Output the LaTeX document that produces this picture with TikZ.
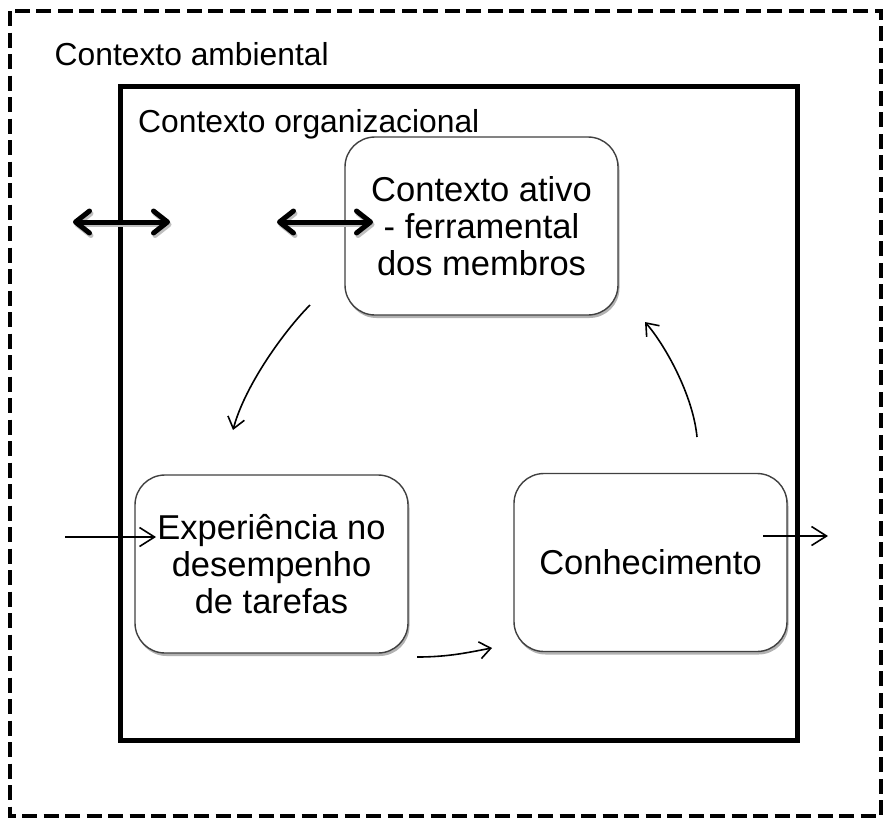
\documentclass[tikz,border=0pt]{standalone}
\usepackage{fontspec}
\setmainfont{Liberation Sans}
\usetikzlibrary{arrows.meta,shadows}
\begin{document}
\begin{tikzpicture}[x=1pt,y=-1pt,
  boxstyle/.style={draw=black!75, line width=1.4pt, rounded corners=30pt, fill=white,
    minimum width=273pt, minimum height=178pt, inner sep=0pt, align=center,
    font=\fontsize{34.5}{37}\selectfont,
    drop shadow={shadow xshift=1.5pt, shadow yshift=-3pt, opacity=0.3, fill=black}},
  lbl/.style={anchor=base west, inner sep=0pt, font=\fontsize{31.8}{36}\selectfont},
  dblarrow/.style={line width=5pt, line cap=round,
    {Straight Barb[length=14pt,width=22pt,round]}-{Straight Barb[length=14pt,width=22pt,round]}},
  dblshadow/.style={line width=5pt, line cap=round, black!25,
    {Straight Barb[length=14pt,width=22pt,round]}-{Straight Barb[length=14pt,width=22pt,round]}},
  thinarrow/.style={line width=1.6pt, -{Straight Barb[length=15pt,width=19pt]}},
  curvearrow/.style={line width=1.6pt, -{Straight Barb[length=11pt,width=17pt]}}
]
\useasboundingbox (0,0) rectangle (885,822);

% frames
\draw[line width=4pt, dash pattern=on 15pt off 6.5pt] (10,11) rectangle (881,816);
\draw[line width=5pt] (120,86) rectangle (797,740);

% labels
\node[lbl] (amb) at (54.5,65) {Contexto ambiental};
\node[lbl] (org) at (138,132) {Contexto organizacional};

% boxes
\node[boxstyle] (ativo) at (481.5,226) {Contexto ativo\\- ferramental\\dos membros};
\node[boxstyle] (exp) at (271.5,564) {Experiência no\\desempenho\\de tarefas};
\node[boxstyle] (con) at (650.5,562.5) {Conhecimento};

% free ends
\coordinate (d1a) at (73,222);
\coordinate (d1b) at (170,222);
\coordinate (d2a) at (277,222);
\coordinate (d2b) at (373,222);
\coordinate (c1s) at (310,305);
\coordinate (c1e) at (233,430);
\coordinate (c2s) at (697,437);
\coordinate (c2e) at (645,322);
\coordinate (c3s) at (417,657);
\coordinate (c3e) at (492,648);
\coordinate (inL) at (65,537);
\coordinate (inR) at (156,537);
\coordinate (outL) at (763,536);
\coordinate (outR) at (828,536);

% double arrows
\draw[dblshadow] ([shift={(1.5,2.5)}]d1a) -- ([shift={(1.5,2.5)}]d1b);
\draw[dblshadow] ([shift={(1.5,2.5)}]d2a) -- ([shift={(1.5,2.5)}]d2b);
\draw[dblarrow] (d1a) -- (d1b);
\draw[dblarrow] (d2a) -- (d2b);

% cycle arrows
\draw[curvearrow] (c1s) .. controls (285,330) and (245,385) .. (c1e);
\draw[curvearrow] (c2s) .. controls (693,395) and (665,345) .. (c2e);
\draw[curvearrow] (c3s) .. controls (450,657) and (470,652) .. (c3e);

% in / out arrows
\draw[thinarrow] (inL) -- (inR);
\draw[thinarrow] (outL) -- (outR);
\end{tikzpicture}
\end{document}
